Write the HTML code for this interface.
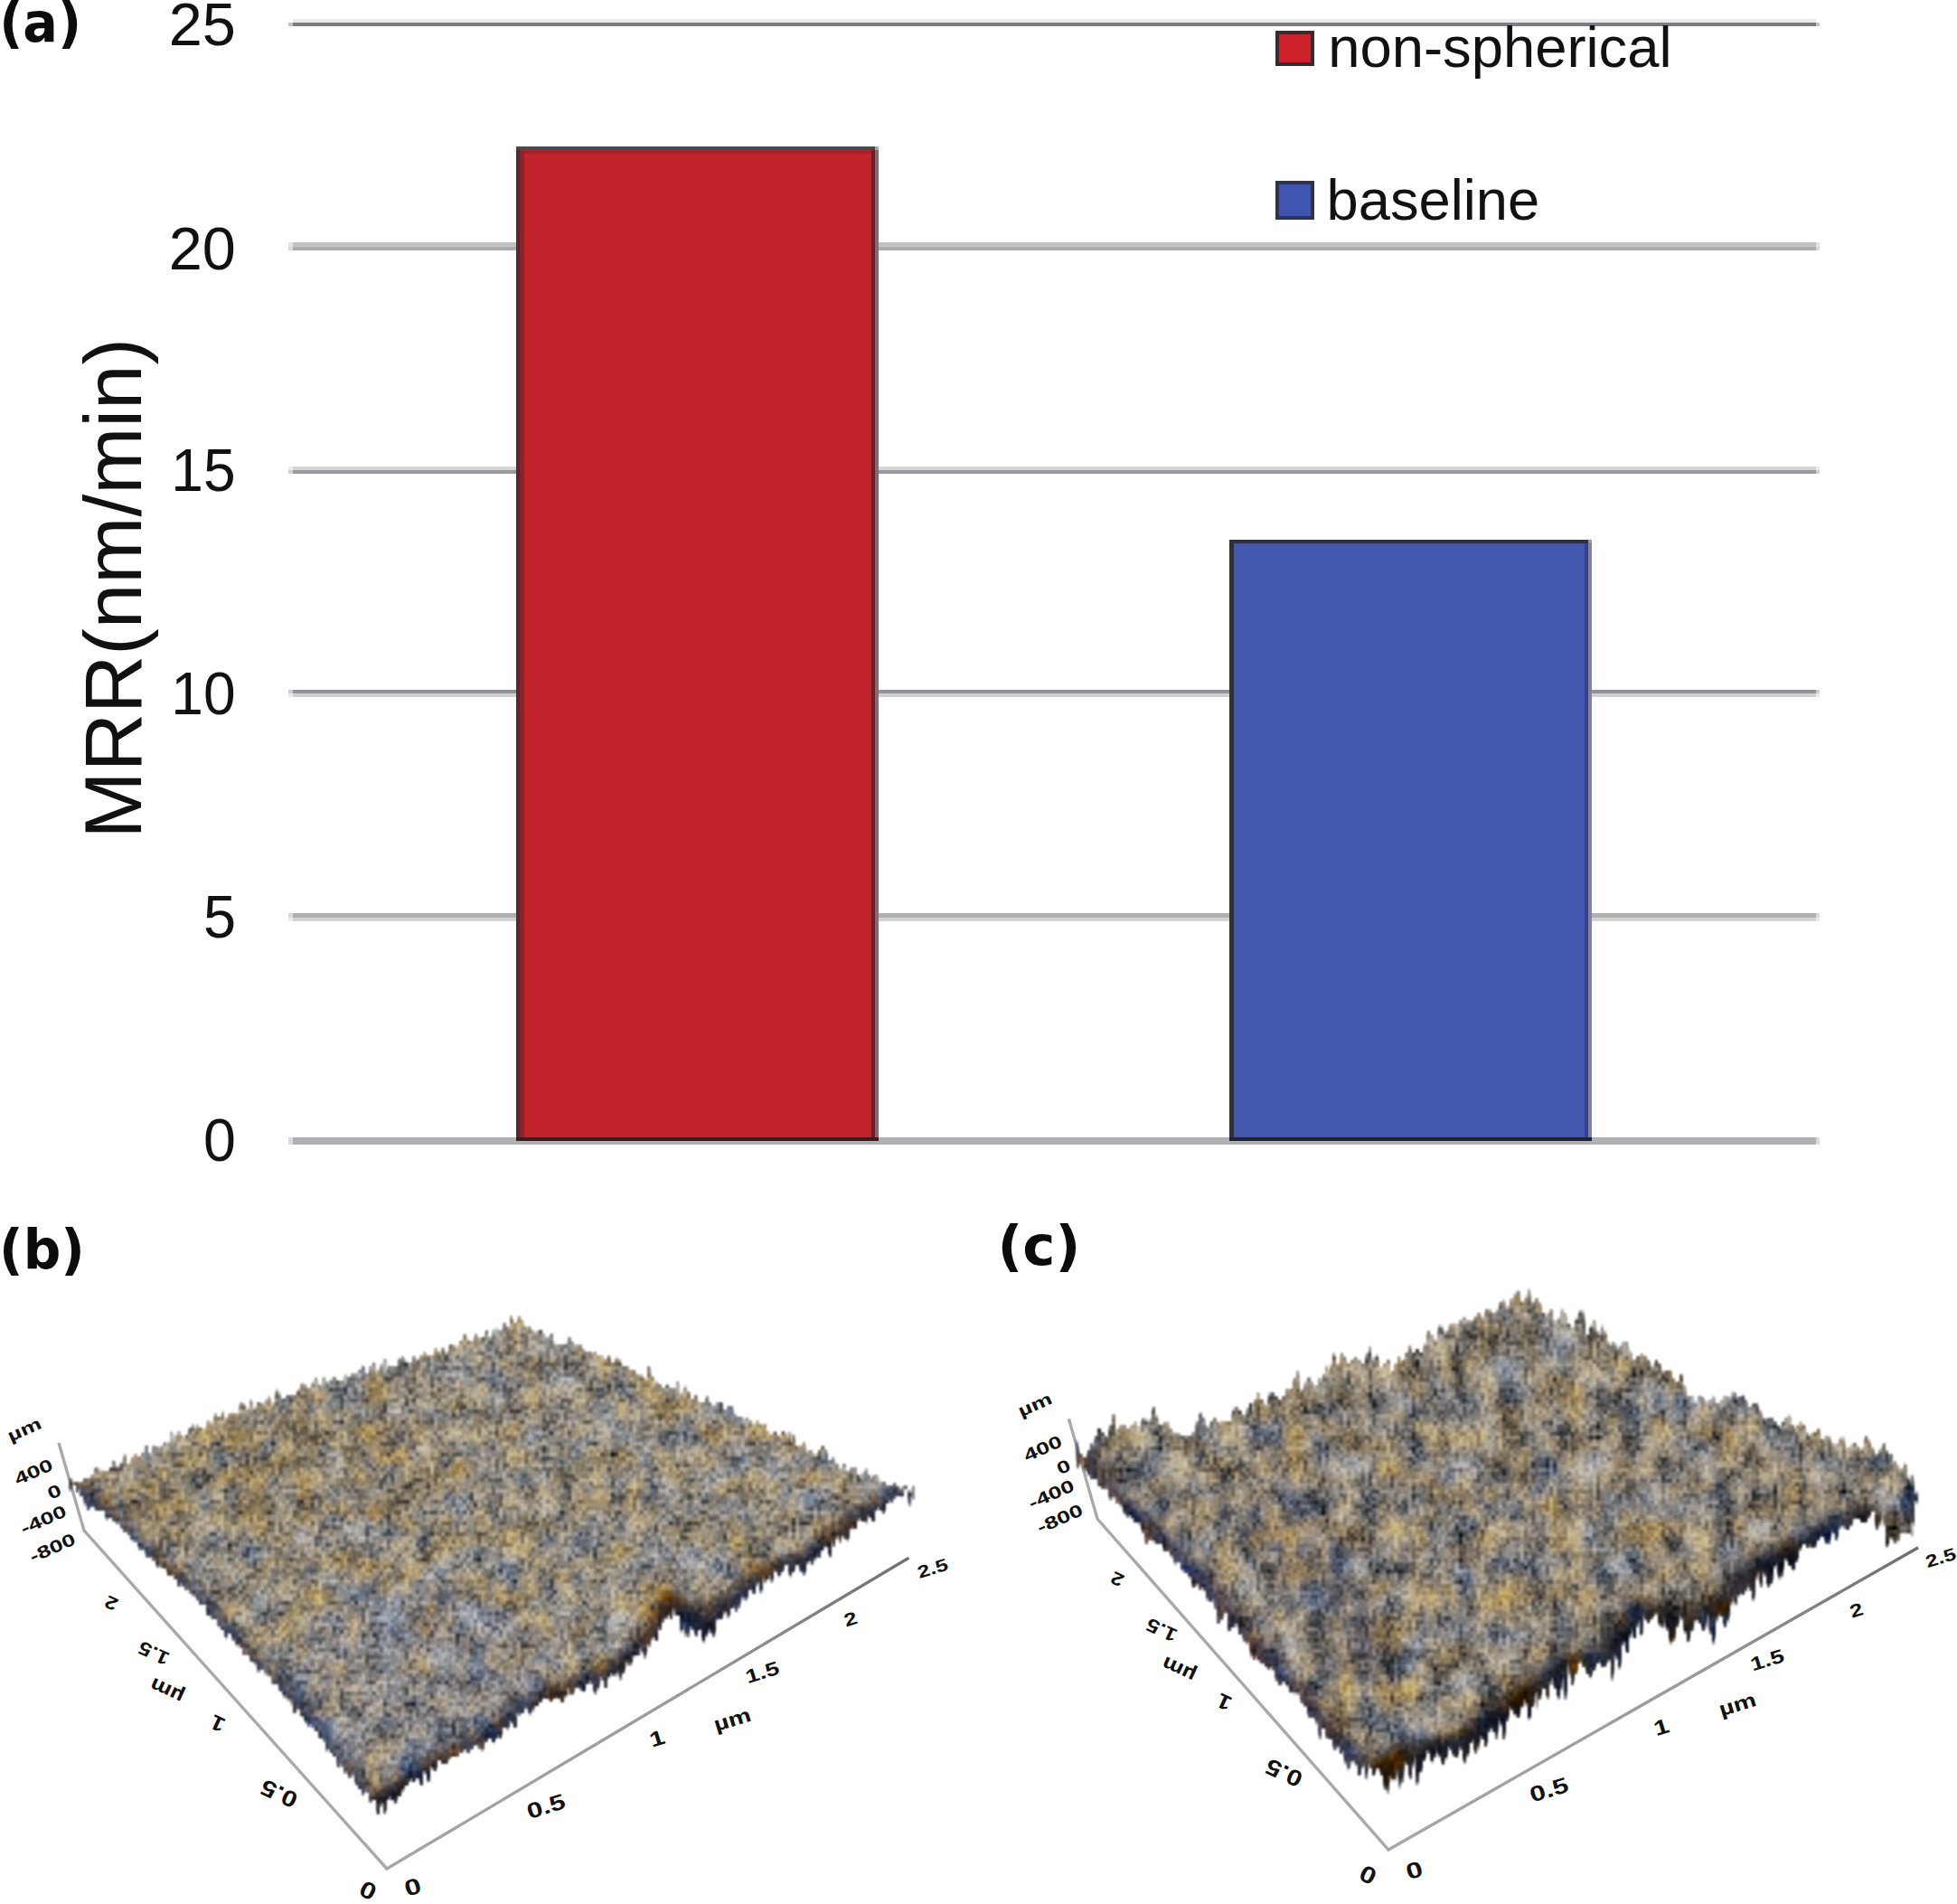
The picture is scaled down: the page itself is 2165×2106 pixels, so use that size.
<!DOCTYPE html>
<html lang="en"><head><meta charset="utf-8"><title>Figure</title>
<style>html,body{margin:0;padding:0;background:#fff}svg{display:block}text{font-family:"Liberation Sans",sans-serif;fill:#111}.b{font-family:"DejaVu Sans",sans-serif;font-weight:bold;fill:#0c0c0c}</style></head><body>
<svg width="2165" height="2106" viewBox="0 0 2165 2106">
<rect width="2165" height="2106" fill="#fff"/>
<g id="grid">
<rect x="324" y="21" width="1685" height="4" fill="#ebebeb"/>
<rect x="324" y="25" width="1685" height="4" fill="#7b7d83"/>
<rect x="319" y="25" width="5" height="4" fill="#7b7d83" opacity=".45"/>
<rect x="2009" y="25" width="4" height="4" fill="#7b7d83" opacity=".45"/>
<rect x="324" y="268" width="1685" height="4.5" fill="#c1c3c2"/>
<rect x="319" y="268" width="5" height="4.5" fill="#c1c3c2" opacity=".45"/>
<rect x="2009" y="268" width="4" height="4.5" fill="#c1c3c2" opacity=".45"/>
<rect x="324" y="272.5" width="1685" height="4.5" fill="#acacae"/>
<rect x="319" y="272.5" width="5" height="4.5" fill="#acacae" opacity=".45"/>
<rect x="2009" y="272.5" width="4" height="4.5" fill="#acacae" opacity=".45"/>
<rect x="324" y="516" width="1685" height="4" fill="#d5d5d5"/>
<rect x="319" y="516" width="5" height="4" fill="#d5d5d5" opacity=".45"/>
<rect x="2009" y="516" width="4" height="4" fill="#d5d5d5" opacity=".45"/>
<rect x="324" y="520" width="1685" height="4" fill="#98999e"/>
<rect x="319" y="520" width="5" height="4" fill="#98999e" opacity=".45"/>
<rect x="2009" y="520" width="4" height="4" fill="#98999e" opacity=".45"/>
<rect x="324" y="763" width="1685" height="4" fill="#929399"/>
<rect x="319" y="763" width="5" height="4" fill="#929399" opacity=".45"/>
<rect x="2009" y="763" width="4" height="4" fill="#929399" opacity=".45"/>
<rect x="324" y="767" width="1685" height="4" fill="#cfd0d1"/>
<rect x="319" y="767" width="5" height="4" fill="#cfd0d1" opacity=".45"/>
<rect x="2009" y="767" width="4" height="4" fill="#cfd0d1" opacity=".45"/>
<rect x="324" y="1010" width="1685" height="5" fill="#b0b0b2"/>
<rect x="319" y="1010" width="5" height="5" fill="#b0b0b2" opacity=".45"/>
<rect x="2009" y="1010" width="4" height="5" fill="#b0b0b2" opacity=".45"/>
<rect x="324" y="1015" width="1685" height="4" fill="#d3d3d3"/>
<rect x="319" y="1015" width="5" height="4" fill="#d3d3d3" opacity=".45"/>
<rect x="2009" y="1015" width="4" height="4" fill="#d3d3d3" opacity=".45"/>
<rect x="324" y="1258" width="1685" height="8" fill="#afb0b3"/>
<rect x="319" y="1258" width="5" height="8" fill="#afb0b3" opacity=".45"/>
<rect x="2009" y="1258" width="4" height="8" fill="#afb0b3" opacity=".45"/>
</g>
<g id="bars">
<rect x="571" y="162" width="401" height="1100" fill="#c1242b"/>
<rect x="571" y="162" width="4" height="1100" fill="#5e2531"/>
<rect x="575" y="166" width="5" height="1096" fill="#87242c"/>
<rect x="964" y="166" width="4" height="1096" fill="#6a1d22"/>
<rect x="968" y="162" width="4" height="1100" fill="#90656f"/>
<rect x="571" y="162" width="397" height="4" fill="#4a494d"/>
<rect x="580" y="166" width="384" height="4" fill="#a5222a"/>
<rect x="968" y="162" width="4" height="4" fill="#a3ada2"/>
<rect x="571" y="1258" width="401" height="4" fill="#45151a"/>
<rect x="1360" y="597" width="401" height="665" fill="#4357ae"/>
<rect x="1360" y="597" width="5" height="665" fill="#2f2f3a"/>
<rect x="1753" y="601" width="4" height="661" fill="#364089"/>
<rect x="1757" y="597" width="4" height="665" fill="#7d8590"/>
<rect x="1360" y="597" width="397" height="4" fill="#2e2f45"/>
<rect x="1360" y="1258" width="401" height="4" fill="#1e2040"/>
<rect x="1757" y="597" width="4" height="4" fill="#9a9c8c"/>
</g>
<g id="legend">
<rect x="1411" y="34" width="43" height="39" fill="#3a2a30"/><rect x="1415" y="38" width="35" height="31" fill="#cc202a"/>
<rect x="1411" y="200" width="43" height="43" fill="#30324a"/><rect x="1415" y="204" width="35" height="35" fill="#3f55b0"/>
</g>
<g id="labels">
<text transform="translate(-0.85 45.7) scale(0.9383 1)" font-size="61" class="b">(a)</text>
<text transform="translate(-0.93 1403) scale(0.9531 1)" font-size="61" class="b">(b)</text>
<text transform="translate(1103.52 1399) scale(0.9984 1)" font-size="61" class="b">(c)</text>
<text transform="translate(186.67 50) scale(0.995 1)" font-size="67">25</text>
<text transform="translate(186.67 297.5) scale(0.995 1)" font-size="67">20</text>
<text transform="translate(189.37 542.5) scale(0.9573 1)" font-size="67">15</text>
<text transform="translate(189.37 789.5) scale(0.9573 1)" font-size="67">10</text>
<text transform="translate(224.9 1036.5) scale(0.9686 1)" font-size="67">5</text>
<text transform="translate(224.92 1284) scale(0.9639 1)" font-size="67">0</text>
<text transform="translate(1469.1899999999998 73.5) scale(1.006 1)" font-size="63">non-spherical</text>
<text transform="translate(1467.59 243) scale(1.004 1)" font-size="63">baseline</text>
<text transform="translate(155.5 927.5) rotate(-90)" font-size="89">MRR(nm/min)</text>
</g>
<g id="axes-b">
<defs><linearGradient id="agb" gradientUnits="userSpaceOnUse" x1="428" y1="2067" x2="1004" y2="1724"><stop offset="0" stop-color="#a6a6a6"/><stop offset=".6" stop-color="#9a9a9a"/><stop offset="1" stop-color="#6e6e70"/></linearGradient></defs>
<path d="M65 1596 L93 1693 L428 2067" fill="none" stroke="#a9a9ab" stroke-width="3.4" stroke-linejoin="miter"/>
<path d="M428 2067 L1004 1724" fill="none" stroke="url(#agb)" stroke-width="3.4" stroke-linecap="square"/>
<text transform="translate(27 1581) rotate(-24) scale(1.4 1)" font-size="19" font-weight="bold" text-anchor="middle" dominant-baseline="central" fill="#1c1c1e">µm</text>
<text transform="translate(37 1628) rotate(-24) scale(1.4 1)" font-size="19" font-weight="bold" text-anchor="middle" dominant-baseline="central" fill="#1c1c1e">400</text>
<text transform="translate(60 1650) rotate(-24) scale(1.4 1)" font-size="19" font-weight="bold" text-anchor="middle" dominant-baseline="central" fill="#1c1c1e">0</text>
<text transform="translate(48 1681) rotate(-24) scale(1.4 1)" font-size="19" font-weight="bold" text-anchor="middle" dominant-baseline="central" fill="#1c1c1e">-400</text>
<text transform="translate(58 1712) rotate(-24) scale(1.4 1)" font-size="19" font-weight="bold" text-anchor="middle" dominant-baseline="central" fill="#1c1c1e">-800</text>
<text transform="translate(123 1773) rotate(205) scale(1.2 1)" font-size="20" font-weight="bold" text-anchor="middle" dominant-baseline="central" fill="#1c1c1e">2</text>
<text transform="translate(170 1828.6) rotate(205) scale(1.2 1)" font-size="21" font-weight="bold" text-anchor="middle" dominant-baseline="central" fill="#1c1c1e">1.5</text>
<text transform="translate(184.4 1870.6) rotate(205) scale(1.2 1)" font-size="22" font-weight="bold" text-anchor="middle" dominant-baseline="central" fill="#1c1c1e">µm</text>
<text transform="translate(240.7 1906.7) rotate(205) scale(1.2 1)" font-size="23" font-weight="bold" text-anchor="middle" dominant-baseline="central" fill="#1c1c1e">1</text>
<text transform="translate(308.7 1984) rotate(205) scale(1.2 1)" font-size="25" font-weight="bold" text-anchor="middle" dominant-baseline="central" fill="#1c1c1e">0.5</text>
<text transform="translate(407 2091) rotate(205) scale(1.2 1)" font-size="26" font-weight="bold" text-anchor="middle" dominant-baseline="central" fill="#1c1c1e">0</text>
<text transform="translate(456.5 2087) rotate(-17) scale(1.3 1)" font-size="25" font-weight="bold" text-anchor="middle" dominant-baseline="central" fill="#1c1c1e">0</text>
<text transform="translate(604 1998) rotate(-17) scale(1.3 1)" font-size="24" font-weight="bold" text-anchor="middle" dominant-baseline="central" fill="#1c1c1e">0.5</text>
<text transform="translate(727 1923) rotate(-17) scale(1.3 1)" font-size="23" font-weight="bold" text-anchor="middle" dominant-baseline="central" fill="#1c1c1e">1</text>
<text transform="translate(810 1901.8) rotate(-17) scale(1.3 1)" font-size="22" font-weight="bold" text-anchor="middle" dominant-baseline="central" fill="#1c1c1e">µm</text>
<text transform="translate(843.3 1849.7) rotate(-17) scale(1.3 1)" font-size="21" font-weight="bold" text-anchor="middle" dominant-baseline="central" fill="#1c1c1e">1.5</text>
<text transform="translate(940.8 1790.9) rotate(-17) scale(1.3 1)" font-size="20" font-weight="bold" text-anchor="middle" dominant-baseline="central" fill="#1c1c1e">2</text>
<text transform="translate(1031.7 1734.7) rotate(-17) scale(1.3 1)" font-size="19" font-weight="bold" text-anchor="middle" dominant-baseline="central" fill="#1c1c1e">2.5</text>
</g>
<g id="axes-c">
<defs><linearGradient id="agc" gradientUnits="userSpaceOnUse" x1="1536" y1="2046" x2="2120.6" y2="1712.6"><stop offset="0" stop-color="#a6a6a6"/><stop offset=".6" stop-color="#9a9a9a"/><stop offset="1" stop-color="#6e6e70"/></linearGradient></defs>
<path d="M1182.4 1569.4 L1214 1680 L1536 2046" fill="none" stroke="#a9a9ab" stroke-width="3.4" stroke-linejoin="miter"/>
<path d="M1536 2046 L2120.6 1712.6" fill="none" stroke="url(#agc)" stroke-width="3.4" stroke-linecap="square"/>
<text transform="translate(1145 1553.6) rotate(-24) scale(1.4 1)" font-size="19" font-weight="bold" text-anchor="middle" dominant-baseline="central" fill="#1c1c1e">µm</text>
<text transform="translate(1153.5 1602) rotate(-24) scale(1.4 1)" font-size="19" font-weight="bold" text-anchor="middle" dominant-baseline="central" fill="#1c1c1e">400</text>
<text transform="translate(1176.5 1622.6) rotate(-24) scale(1.4 1)" font-size="19" font-weight="bold" text-anchor="middle" dominant-baseline="central" fill="#1c1c1e">0</text>
<text transform="translate(1163 1652.8) rotate(-24) scale(1.4 1)" font-size="19" font-weight="bold" text-anchor="middle" dominant-baseline="central" fill="#1c1c1e">-400</text>
<text transform="translate(1172.5 1679.7) rotate(-24) scale(1.4 1)" font-size="19" font-weight="bold" text-anchor="middle" dominant-baseline="central" fill="#1c1c1e">-800</text>
<text transform="translate(1236 1746.7) rotate(205) scale(1.2 1)" font-size="20" font-weight="bold" text-anchor="middle" dominant-baseline="central" fill="#1c1c1e">2</text>
<text transform="translate(1285 1803) rotate(205) scale(1.2 1)" font-size="21" font-weight="bold" text-anchor="middle" dominant-baseline="central" fill="#1c1c1e">1.5</text>
<text transform="translate(1304 1847) rotate(205) scale(1.2 1)" font-size="22" font-weight="bold" text-anchor="middle" dominant-baseline="central" fill="#1c1c1e">µm</text>
<text transform="translate(1354 1883) rotate(205) scale(1.2 1)" font-size="23" font-weight="bold" text-anchor="middle" dominant-baseline="central" fill="#1c1c1e">1</text>
<text transform="translate(1420.4 1961) rotate(205) scale(1.2 1)" font-size="25" font-weight="bold" text-anchor="middle" dominant-baseline="central" fill="#1c1c1e">0.5</text>
<text transform="translate(1513.4 2073.7) rotate(205) scale(1.2 1)" font-size="26" font-weight="bold" text-anchor="middle" dominant-baseline="central" fill="#1c1c1e">0</text>
<text transform="translate(1564.5 2068.6) rotate(-17) scale(1.3 1)" font-size="25" font-weight="bold" text-anchor="middle" dominant-baseline="central" fill="#1c1c1e">0</text>
<text transform="translate(1713.7 1979.7) rotate(-17) scale(1.3 1)" font-size="24" font-weight="bold" text-anchor="middle" dominant-baseline="central" fill="#1c1c1e">0.5</text>
<text transform="translate(1838 1910.5) rotate(-17) scale(1.3 1)" font-size="23" font-weight="bold" text-anchor="middle" dominant-baseline="central" fill="#1c1c1e">1</text>
<text transform="translate(1922 1885) rotate(-17) scale(1.3 1)" font-size="22" font-weight="bold" text-anchor="middle" dominant-baseline="central" fill="#1c1c1e">µm</text>
<text transform="translate(1955 1836) rotate(-17) scale(1.3 1)" font-size="21" font-weight="bold" text-anchor="middle" dominant-baseline="central" fill="#1c1c1e">1.5</text>
<text transform="translate(2053.6 1781) rotate(-17) scale(1.3 1)" font-size="20" font-weight="bold" text-anchor="middle" dominant-baseline="central" fill="#1c1c1e">2</text>
<text transform="translate(2147 1723) rotate(-17) scale(1.3 1)" font-size="19" font-weight="bold" text-anchor="middle" dominant-baseline="central" fill="#1c1c1e">2.5</text>
</g>
<g id="afm-b">
<defs><clipPath id="cpb"><path d="M76.6 1649.4 L84.2 1637.6 L87.9 1643.6 L93.4 1636.2 L100.2 1635.8 L108.0 1620.4 L111.5 1634.5 L113.4 1625.7 L120.6 1628.8 L125.7 1616.5 L131.7 1625.2 L138.2 1608.9 L141.6 1620.1 L149.3 1608.9 L156.2 1611.1 L162.5 1598.7 L166.6 1611.3 L169.9 1599.4 L177.2 1602.6 L182.8 1596.3 L185.7 1600.0 L189.9 1583.9 L192.2 1597.3 L196.6 1581.8 L204.2 1593.0 L212.8 1574.9 L216.1 1587.6 L219.0 1575.9 L226.0 1582.9 L230.4 1571.7 L235.4 1574.9 L239.1 1562.6 L244.5 1572.2 L247.5 1558.6 L247.4 1573.0 L256.0 1562.8 L263.5 1565.3 L267.2 1550.1 L274.1 1560.8 L277.0 1548.5 L281.5 1559.9 L285.5 1551.5 L292.4 1554.8 L296.8 1544.3 L301.7 1556.0 L307.8 1533.5 L310.6 1549.0 L319.9 1543.5 L327.6 1543.3 L334.7 1529.4 L341.8 1537.4 L349.5 1524.7 L354.4 1534.7 L358.3 1524.2 L363.7 1532.5 L368.3 1522.6 L376.7 1530.7 L382.0 1521.4 L387.8 1523.0 L390.6 1518.2 L395.6 1521.3 L401.0 1509.5 L405.4 1521.1 L412.9 1506.3 L417.3 1519.1 L426.0 1503.4 L429.3 1515.7 L431.2 1508.4 L437.4 1513.2 L443.9 1499.5 L453.4 1510.5 L457.9 1500.4 L461.6 1505.9 L469.2 1496.2 L477.1 1502.5 L483.8 1489.1 L486.6 1499.7 L489.6 1490.8 L493.9 1498.8 L498.9 1486.7 L505.4 1491.7 L514.3 1476.6 L520.4 1486.9 L527.7 1474.7 L531.3 1484.4 L539.4 1471.3 L541.5 1480.4 L547.2 1469.1 L554.3 1471.5 L558.3 1463.8 L563.3 1470.6 L565.0 1455.1 L568.2 1466.0 L574.8 1456.4 L582.9 1471.0 L584.5 1467.3 L591.4 1475.3 L598.0 1470.8 L604.6 1481.4 L612.5 1473.9 L613.3 1487.4 L619.6 1486.2 L624.8 1489.5 L630.4 1478.7 L636.5 1492.0 L639.7 1484.6 L647.2 1495.8 L653.0 1494.2 L654.4 1498.9 L659.1 1496.1 L663.4 1502.3 L664.9 1499.0 L669.0 1505.0 L673.0 1500.1 L677.9 1508.7 L683.9 1500.1 L687.7 1512.8 L695.3 1511.4 L699.1 1517.1 L701.0 1515.8 L704.6 1521.2 L712.0 1522.0 L714.8 1529.2 L717.6 1511.4 L724.9 1532.0 L727.2 1528.4 L734.2 1535.8 L738.5 1532.4 L744.8 1538.4 L749.5 1528.8 L753.5 1543.8 L759.1 1533.0 L765.8 1550.2 L768.9 1542.9 L776.2 1554.8 L782.7 1544.8 L787.4 1556.7 L796.4 1549.0 L803.0 1561.8 L807.7 1552.7 L813.9 1566.6 L820.7 1566.9 L822.2 1571.7 L828.1 1568.5 L832.4 1575.4 L838.0 1571.8 L845.1 1580.8 L846.2 1574.0 L850.9 1588.1 L857.2 1584.2 L862.9 1590.9 L868.2 1580.4 L871.1 1594.9 L873.4 1584.1 L874.2 1597.1 L877.0 1585.6 L882.2 1602.1 L889.4 1595.6 L892.5 1609.1 L895.7 1603.4 L902.3 1610.5 L912.1 1598.1 L917.2 1618.2 L920.6 1611.6 L925.9 1620.3 L926.0 1618.9 L930.0 1626.9 L933.3 1618.4 L937.5 1627.3 L945.7 1622.0 L950.5 1634.6 L958.6 1625.1 L963.4 1637.1 L968.5 1630.7 L974.4 1639.6 L977.6 1639.2 L982.6 1644.6 L989.9 1641.3 L995.3 1647.3 L1001.8 1644.1 L1008.0 1653.2 L1011.4 1642.2 L1010.6 1658.0 L1007.5 1651.7 L1006.4 1666.0 L1003.3 1643.2 L997.7 1656.2 L992.2 1652.5 L986.8 1661.3 L984.1 1656.7 L977.3 1673.5 L970.7 1664.9 L966.8 1682.5 L959.6 1673.8 L958.4 1684.4 L950.2 1678.4 L946.0 1692.4 L943.5 1685.1 L936.9 1705.3 L931.0 1694.2 L929.1 1706.3 L926.8 1696.7 L922.5 1710.8 L921.7 1701.6 L918.7 1721.7 L912.2 1705.7 L906.9 1724.0 L903.7 1717.2 L899.3 1731.2 L895.6 1721.6 L889.2 1741.7 L881.1 1729.6 L874.9 1744.6 L870.5 1729.6 L861.0 1744.5 L857.7 1735.3 L853.8 1750.0 L852.0 1736.0 L847.6 1754.5 L845.2 1742.0 L841.9 1761.7 L838.6 1748.0 L834.5 1763.0 L830.2 1756.3 L824.0 1772.4 L820.7 1762.3 L815.5 1785.8 L812.1 1772.1 L805.7 1788.8 L802.4 1782.6 L796.5 1792.3 L793.6 1790.3 L788.6 1812.2 L784.4 1796.8 L779.1 1817.4 L774.7 1800.2 L770.3 1809.2 L763.0 1794.8 L760.1 1819.8 L756.8 1791.8 L753.9 1805.4 L752.2 1784.7 L747.1 1789.9 L745.9 1775.5 L743.3 1793.6 L740.0 1778.9 L737.6 1789.6 L734.1 1789.1 L731.5 1805.6 L728.5 1798.3 L727.9 1816.5 L723.1 1807.4 L718.4 1821.1 L716.8 1816.9 L712.5 1836.4 L709.3 1820.4 L706.0 1831.2 L702.2 1830.3 L695.5 1844.9 L693.8 1836.1 L687.0 1858.6 L684.0 1843.5 L681.1 1853.2 L674.3 1851.5 L670.5 1867.4 L664.8 1853.3 L659.6 1875.2 L652.8 1857.3 L645.0 1871.6 L639.3 1864.6 L631.0 1876.7 L629.9 1866.1 L622.6 1883.0 L616.2 1875.5 L608.9 1881.6 L601.9 1876.9 L593.3 1888.2 L592.5 1880.5 L587.7 1898.0 L582.0 1887.7 L575.8 1898.1 L573.2 1895.3 L570.1 1910.7 L565.1 1902.4 L561.2 1912.8 L556.9 1909.4 L551.2 1930.3 L551.6 1916.6 L546.9 1928.3 L540.4 1920.1 L533.7 1936.4 L526.1 1928.5 L518.2 1939.7 L515.9 1932.1 L511.2 1940.0 L508.8 1934.7 L506.3 1943.2 L498.8 1942.6 L492.3 1952.0 L485.5 1945.9 L480.2 1962.1 L477.1 1950.5 L474.2 1971.0 L468.8 1955.7 L467.0 1974.7 L459.4 1962.9 L457.9 1970.7 L454.0 1966.7 L452.0 1976.6 L447.4 1973.4 L443.6 1986.4 L441.0 1984.9 L437.2 1994.4 L430.1 1987.3 L425.4 2005.8 L422.6 1992.7 L418.1 2007.5 L416.1 1988.7 L409.7 1993.1 L405.2 1977.4 L405.1 1981.5 L401.0 1984.9 L398.5 1977.7 L397.3 1980.2 L390.9 1963.5 L386.5 1965.9 L384.4 1957.0 L381.0 1961.1 L377.7 1949.7 L374.3 1954.3 L370.6 1940.6 L368.5 1945.1 L364.5 1932.1 L361.5 1936.7 L357.8 1921.8 L354.4 1923.6 L352.2 1915.8 L347.9 1913.5 L343.0 1907.1 L340.6 1910.1 L336.2 1897.9 L331.7 1896.2 L330.0 1887.9 L324.2 1896.8 L322.1 1878.4 L320.0 1884.3 L316.9 1874.2 L315.4 1879.0 L312.5 1869.4 L311.0 1870.7 L304.9 1861.1 L302.3 1862.6 L299.0 1853.3 L293.8 1852.1 L291.6 1846.0 L285.7 1848.7 L281.9 1838.6 L276.4 1835.8 L272.3 1825.1 L270.0 1830.3 L265.1 1818.0 L264.6 1825.2 L259.5 1812.1 L259.0 1815.1 L252.8 1803.8 L251.1 1813.0 L244.5 1798.7 L243.3 1801.3 L239.1 1790.8 L235.7 1793.0 L233.1 1784.6 L230.1 1786.8 L226.7 1774.1 L221.0 1774.0 L216.5 1764.4 L211.6 1764.2 L207.6 1754.6 L204.9 1760.1 L201.2 1750.2 L198.1 1755.3 L191.2 1739.9 L187.2 1745.3 L184.3 1734.6 L180.8 1736.3 L177.2 1730.6 L174.3 1733.0 L170.5 1724.2 L170.0 1725.9 L166.8 1720.3 L163.3 1724.4 L160.2 1711.1 L155.2 1715.3 L152.2 1704.6 L146.9 1704.5 L140.9 1694.1 L137.5 1695.9 L132.0 1683.3 L128.3 1685.3 L127.8 1683.9 L124.6 1683.7 L122.5 1677.6 L119.3 1681.7 L114.6 1671.2 L107.7 1671.4 L103.3 1664.2 L96.3 1670.2 L92.3 1655.4 L89.5 1656.1 L86.8 1646.0 L84.1 1653.6 L83.9 1638.9 L81.4 1644.3 L80.3 1636.1 L78.4 1636.2Z"/></clipPath>
<filter id="blb" x="-20%" y="-20%" width="140%" height="140%"><feGaussianBlur stdDeviation="7"/></filter>
<filter id="txb" filterUnits="userSpaceOnUse" x="69" y="1447" width="951" height="568" color-interpolation-filters="sRGB">
<feTurbulence type="fractalNoise" baseFrequency="0.052 0.04" numOctaves="2" seed="11" result="n"/>
<feColorMatrix in="n" type="matrix" values="0.600 0.000 0 0 0.200  0.600 -0.000 0 0 0.200  0.600 -0.000 0 0 0.200  0 0 0 0 1" result="cL"/>
<feColorMatrix in="n" type="matrix" values="0.122 0.091 0 0 0.394  -0.029 -0.022 0 0 0.525  -0.262 -0.197 0 0 0.730  0 0 0 0 1" result="cC"/>
<feTurbulence type="fractalNoise" baseFrequency="0.02 0.028" numOctaves="2" seed="16" result="n2"/>
<feColorMatrix in="n2" type="matrix" values="0.220 0.152 0 0 0.314  0.220 -0.036 0 0 0.408  0.220 -0.328 0 0 0.554  0 0 0 0 1" result="c2"/>
<feTurbulence type="fractalNoise" baseFrequency="0.21 0.17" numOctaves="1" seed="20" result="n3"/>
<feColorMatrix in="n3" type="matrix" values="0.950 0.000 0 0 0.025  0.950 -0.000 0 0 0.025  0.950 -0.000 0 0 0.025  0 0 0 0 1" result="cG"/>
<feComposite in="cL" in2="cG" operator="arithmetic" k1="0" k2="1" k3="1" k4="-0.5" result="cLG"/>
<feComposite in="SourceGraphic" in2="cC" operator="arithmetic" k1="0" k2="1" k3="1" k4="-0.5" result="s1"/>
<feComposite in="s1" in2="c2" operator="arithmetic" k1="0" k2="1" k3="1" k4="-0.5" result="s2"/>
<feComposite in="s2" in2="cLG" operator="arithmetic" k1="2" k2="0" k3="0" k4="0" result="m"/>
<feComponentTransfer in="m" result="m2"><feFuncR type="table" tableValues="0 0.25 0.49 0.67 0.78"/><feFuncG type="table" tableValues="0 0.25 0.49 0.67 0.78"/><feFuncB type="table" tableValues="0 0.25 0.49 0.67 0.78"/></feComponentTransfer>
<feComposite in="m2" in2="SourceGraphic" operator="in" result="q"/>
<feFlood x="69" y="1448" width="2" height="2" flood-color="#000"/><feComposite width="4" height="4" x="68" y="1447"/><feTile result="t"/>
<feComposite in="q" in2="t" operator="in"/><feMorphology operator="dilate" radius="1"/><feGaussianBlur stdDeviation="0.9"/>
</filter></defs>
<g filter="url(#txb)"><g clip-path="url(#cpb)">
<rect x="69" y="1447" width="951" height="568" fill="#978d7d"/>
<ellipse cx="300" cy="1625" rx="230" ry="70" fill="#8a6a3c" opacity=".22" filter="url(#blb)"/>
<ellipse cx="470" cy="1860" rx="150" ry="100" fill="#6a78a8" opacity=".22" filter="url(#blb)"/>
<ellipse cx="708" cy="1795" rx="32" ry="36" fill="#c9b08a" opacity=".55" filter="url(#blb)"/>
<ellipse cx="790" cy="1792" rx="34" ry="26" fill="#2a2e40" opacity=".55" filter="url(#blb)"/>
<path d="M1004.2 1653.3 L957.3 1684.6 L926.1 1705.5 L894.8 1731.5 L853.1 1747.2 L821.8 1773.2 L780.1 1809.7 L759.3 1804.5 L743.6 1783.6 L717.6 1825.3 L681.1 1856.6 L629.0 1877.5 L587.3 1893.1 L550.8 1924.4 L509.1 1945.2 L457.0 1971.3 L436.1 1997.3 L417.9 2002.5 L404.8 1986.9" fill="none" stroke="#1c1e2c" stroke-width="40" opacity="0.85" filter="url(#blb)"/>
<path d="M404.8 1989.3 L352.7 1921.6 L316.2 1879.9 L264.1 1822.5 L212.0 1765.2 L170.3 1728.7 L128.6 1687.0 L92.1 1660.9 L76.5 1634.9" fill="none" stroke="#282c40" stroke-width="28" opacity="0.75" filter="url(#blb)"/>
</g></g>
</g>
<g id="afm-c">
<defs><clipPath id="cpc"><path d="M1192.6 1625.1 L1198.0 1611.3 L1202.4 1613.5 L1206.5 1596.0 L1209.5 1601.8 L1215.1 1579.2 L1224.8 1591.3 L1232.2 1563.4 L1234.9 1583.8 L1241.5 1575.8 L1249.9 1581.3 L1255.8 1571.2 L1259.6 1580.7 L1265.7 1567.4 L1271.0 1577.1 L1276.5 1555.8 L1281.9 1576.4 L1291.6 1573.4 L1297.4 1585.4 L1307.1 1587.0 L1318.9 1588.2 L1328.5 1562.3 L1336.8 1581.8 L1342.6 1567.4 L1349.3 1576.5 L1353.2 1570.3 L1361.6 1574.5 L1365.9 1553.6 L1376.4 1567.5 L1384.1 1550.7 L1383.9 1564.2 L1391.3 1540.6 L1401.3 1557.8 L1405.6 1538.0 L1417.0 1551.0 L1424.5 1535.8 L1426.3 1543.1 L1435.3 1516.2 L1439.3 1541.0 L1448.1 1522.6 L1455.5 1538.1 L1459.0 1523.5 L1462.1 1533.0 L1466.9 1509.4 L1470.5 1525.0 L1474.9 1496.4 L1480.0 1512.0 L1484.6 1497.3 L1492.2 1509.2 L1498.5 1501.3 L1508.8 1510.0 L1515.3 1489.5 L1516.9 1512.8 L1522.8 1496.6 L1526.2 1513.7 L1536.1 1503.9 L1539.1 1521.5 L1547.3 1501.1 L1551.1 1508.8 L1559.8 1488.4 L1561.9 1501.2 L1566.3 1492.2 L1574.0 1496.9 L1580.7 1471.4 L1588.9 1484.9 L1594.0 1460.3 L1597.3 1478.9 L1605.1 1465.0 L1610.9 1464.7 L1618.7 1457.6 L1629.3 1462.8 L1635.4 1451.5 L1641.2 1460.5 L1645.2 1446.6 L1654.4 1455.6 L1662.4 1435.4 L1666.9 1450.8 L1672.5 1435.7 L1672.3 1446.9 L1678.4 1424.7 L1685.4 1445.6 L1691.3 1426.0 L1694.7 1444.0 L1700.7 1435.1 L1709.9 1458.6 L1716.2 1447.0 L1721.2 1467.8 L1729.0 1446.9 L1738.4 1472.0 L1750.6 1445.9 L1755.0 1481.0 L1763.4 1459.8 L1770.4 1484.5 L1773.0 1464.9 L1781.7 1493.4 L1786.0 1481.2 L1788.9 1494.4 L1798.5 1482.5 L1807.2 1504.7 L1817.9 1497.1 L1829.2 1513.4 L1833.1 1503.2 L1840.6 1518.7 L1846.9 1514.0 L1854.3 1533.4 L1859.9 1520.0 L1866.3 1544.5 L1873.4 1544.5 L1877.1 1556.5 L1880.4 1542.8 L1889.6 1553.1 L1894.6 1544.4 L1901.3 1554.2 L1908.3 1544.8 L1916.2 1547.3 L1917.5 1531.4 L1920.9 1548.6 L1929.5 1542.2 L1934.0 1559.0 L1942.5 1551.3 L1952.1 1571.0 L1959.8 1568.4 L1968.7 1579.6 L1978.7 1564.5 L1985.3 1582.3 L1993.3 1571.7 L2000.9 1589.3 L2011.7 1581.2 L2017.5 1597.3 L2021.2 1586.4 L2030.7 1601.5 L2038.7 1586.9 L2041.5 1604.9 L2053.1 1594.8 L2058.9 1608.4 L2064.9 1588.2 L2075.2 1610.5 L2085.3 1596.2 L2089.6 1615.4 L2092.4 1607.0 L2094.0 1625.3 L2097.8 1613.7 L2100.9 1630.0 L2107.4 1618.5 L2113.2 1642.6 L2114.7 1628.0 L2118.9 1655.0 L2122.4 1646.2 L2123.1 1667.8 L2119.1 1657.9 L2116.3 1688.6 L2115.1 1672.4 L2115.4 1698.3 L2104.6 1693.4 L2098.1 1707.8 L2091.7 1700.5 L2087.2 1710.7 L2083.0 1669.0 L2077.3 1695.3 L2072.8 1669.7 L2062.4 1685.2 L2053.7 1676.7 L2044.3 1692.1 L2036.4 1686.5 L2030.9 1703.9 L2026.4 1688.7 L2022.8 1709.7 L2014.6 1696.7 L2005.5 1714.7 L2001.7 1703.3 L2000.2 1712.2 L1993.8 1705.8 L1984.0 1737.4 L1973.9 1721.3 L1970.3 1752.1 L1964.4 1727.9 L1957.9 1758.7 L1949.7 1732.5 L1949.7 1758.7 L1944.6 1736.9 L1939.5 1770.2 L1933.8 1746.9 L1930.3 1765.3 L1925.4 1758.9 L1920.3 1774.4 L1917.3 1764.2 L1909.5 1801.5 L1901.4 1779.7 L1895.1 1818.6 L1888.2 1783.7 L1886.7 1807.5 L1877.3 1787.7 L1867.4 1815.7 L1859.1 1784.5 L1849.6 1820.8 L1841.0 1788.4 L1838.7 1804.0 L1832.4 1784.3 L1821.6 1796.3 L1818.8 1782.9 L1815.8 1809.8 L1812.3 1791.0 L1809.4 1814.3 L1804.7 1800.2 L1800.7 1828.3 L1796.0 1814.3 L1791.5 1846.0 L1787.3 1828.6 L1781.7 1868.4 L1781.8 1834.3 L1773.2 1845.3 L1769.9 1834.6 L1759.0 1855.0 L1748.1 1836.4 L1738.0 1867.2 L1735.5 1837.6 L1731.9 1880.7 L1729.3 1845.6 L1726.0 1881.8 L1716.3 1855.5 L1713.0 1878.8 L1706.6 1863.6 L1700.9 1890.0 L1700.4 1869.6 L1691.6 1901.9 L1687.4 1877.5 L1679.0 1901.0 L1670.5 1887.0 L1663.2 1924.3 L1658.5 1894.1 L1655.2 1924.5 L1649.7 1905.2 L1643.3 1932.8 L1637.9 1914.5 L1633.9 1943.0 L1628.4 1923.8 L1620.9 1950.2 L1615.8 1931.6 L1610.6 1945.5 L1603.1 1931.6 L1597.3 1952.4 L1588.8 1933.2 L1586.0 1952.5 L1579.1 1934.2 L1567.3 1974.2 L1565.9 1931.3 L1561.4 1969.0 L1554.0 1942.9 L1549.7 1986.9 L1546.3 1947.6 L1542.4 1974.4 L1537.4 1957.7 L1534.9 1986.8 L1525.9 1953.3 L1518.8 1963.7 L1513.8 1943.8 L1510.3 1974.9 L1508.7 1950.6 L1503.6 1963.4 L1498.2 1943.5 L1490.4 1959.0 L1485.4 1932.0 L1483.6 1939.3 L1481.5 1932.0 L1476.6 1935.1 L1472.8 1922.7 L1467.7 1921.4 L1463.6 1909.0 L1461.5 1925.6 L1454.7 1897.5 L1449.6 1902.5 L1444.5 1886.3 L1441.4 1885.7 L1436.7 1873.3 L1428.6 1873.1 L1421.8 1859.6 L1414.6 1864.6 L1407.7 1843.8 L1402.6 1845.9 L1399.0 1839.4 L1393.6 1839.4 L1389.3 1826.9 L1386.1 1841.3 L1381.9 1813.3 L1377.9 1819.9 L1373.8 1803.8 L1369.6 1809.9 L1368.4 1794.1 L1359.5 1805.1 L1356.8 1782.7 L1347.6 1795.9 L1342.5 1766.0 L1337.8 1772.8 L1331.7 1755.9 L1327.1 1757.7 L1325.1 1748.9 L1321.5 1757.9 L1314.4 1738.9 L1310.1 1740.3 L1303.1 1725.4 L1301.3 1730.8 L1294.0 1716.6 L1289.0 1716.2 L1285.1 1706.5 L1277.5 1706.8 L1273.6 1698.9 L1268.7 1708.7 L1262.1 1685.6 L1256.1 1684.4 L1251.3 1676.3 L1246.5 1677.8 L1238.1 1660.2 L1233.4 1663.3 L1234.1 1655.7 L1228.7 1658.6 L1224.5 1645.6 L1217.3 1646.0 L1213.5 1636.7 L1205.6 1635.2 L1203.5 1626.7 L1202.0 1629.1 L1199.4 1622.8 L1198.3 1625.9 L1196.1 1607.1 L1193.6 1610.1 L1190.1 1587.2Z"/></clipPath>
<filter id="blc" x="-20%" y="-20%" width="140%" height="140%"><feGaussianBlur stdDeviation="7"/></filter>
<filter id="txc" filterUnits="userSpaceOnUse" x="1182" y="1417" width="949" height="578" color-interpolation-filters="sRGB">
<feTurbulence type="fractalNoise" baseFrequency="0.038 0.028" numOctaves="2" seed="23" result="n"/>
<feColorMatrix in="n" type="matrix" values="0.850 0.000 0 0 0.075  0.850 -0.000 0 0 0.075  0.850 -0.000 0 0 0.075  0 0 0 0 1" result="cL"/>
<feColorMatrix in="n" type="matrix" values="0.122 0.091 0 0 0.394  -0.029 -0.022 0 0 0.525  -0.262 -0.197 0 0 0.730  0 0 0 0 1" result="cC"/>
<feTurbulence type="fractalNoise" baseFrequency="0.02 0.028" numOctaves="2" seed="28" result="n2"/>
<feColorMatrix in="n2" type="matrix" values="0.220 0.152 0 0 0.314  0.220 -0.036 0 0 0.408  0.220 -0.328 0 0 0.554  0 0 0 0 1" result="c2"/>
<feTurbulence type="fractalNoise" baseFrequency="0.21 0.17" numOctaves="1" seed="32" result="n3"/>
<feColorMatrix in="n3" type="matrix" values="0.950 0.000 0 0 0.025  0.950 -0.000 0 0 0.025  0.950 -0.000 0 0 0.025  0 0 0 0 1" result="cG"/>
<feComposite in="cL" in2="cG" operator="arithmetic" k1="0" k2="1" k3="1" k4="-0.5" result="cLG"/>
<feComposite in="SourceGraphic" in2="cC" operator="arithmetic" k1="0" k2="1" k3="1" k4="-0.5" result="s1"/>
<feComposite in="s1" in2="c2" operator="arithmetic" k1="0" k2="1" k3="1" k4="-0.5" result="s2"/>
<feComposite in="s2" in2="cLG" operator="arithmetic" k1="2" k2="0" k3="0" k4="0" result="m"/>
<feComponentTransfer in="m" result="m2"><feFuncR type="table" tableValues="0 0.25 0.49 0.67 0.78"/><feFuncG type="table" tableValues="0 0.25 0.49 0.67 0.78"/><feFuncB type="table" tableValues="0 0.25 0.49 0.67 0.78"/></feComponentTransfer>
<feComposite in="m2" in2="SourceGraphic" operator="in" result="q"/>
<feFlood x="1183" y="1417" width="2" height="2" flood-color="#000"/><feComposite width="4" height="4" x="1182" y="1416"/><feTile result="t"/>
<feComposite in="q" in2="t" operator="in"/><feMorphology operator="dilate" radius="1"/><feGaussianBlur stdDeviation="0.9"/>
</filter></defs>
<g filter="url(#txc)"><g clip-path="url(#cpc)">
<rect x="1182" y="1417" width="949" height="578" fill="#8c8274"/>
<path d="M1420 1640 L1500 1720 L1540 1860 L1480 1850 L1440 1760 L1380 1680Z" fill="#3a4058" opacity=".35" filter="url(#blc)"/>
<ellipse cx="2112" cy="1664" rx="9" ry="22" fill="#16161e" opacity=".8"/>
<path d="M2083.6 1684.8 L2031.7 1705.6 L2000.6 1721.2 L1948.8 1752.3 L1917.6 1783.4 L1886.5 1804.1 L1839.8 1804.1 L1819.1 1799.0 L1782.8 1850.8 L1736.1 1856.0 L1699.8 1887.1 L1658.3 1913.1 L1616.8 1949.4 L1564.9 1949.4 L1533.8 1980.5 L1507.9 1954.6" fill="none" stroke="#14161f" stroke-width="58" opacity="0.9" filter="url(#blc)"/>
<path d="M1507.9 1960.0 L1482.0 1939.2 L1440.5 1887.3 L1399.0 1845.8 L1367.8 1804.4 L1321.2 1752.5 L1274.5 1705.8 L1233.0 1664.3 L1201.9 1633.2 L1188.9 1591.7" fill="none" stroke="#20243a" stroke-width="36" opacity="0.8" filter="url(#blc)"/>
</g></g>
</g>
</svg></body></html>
